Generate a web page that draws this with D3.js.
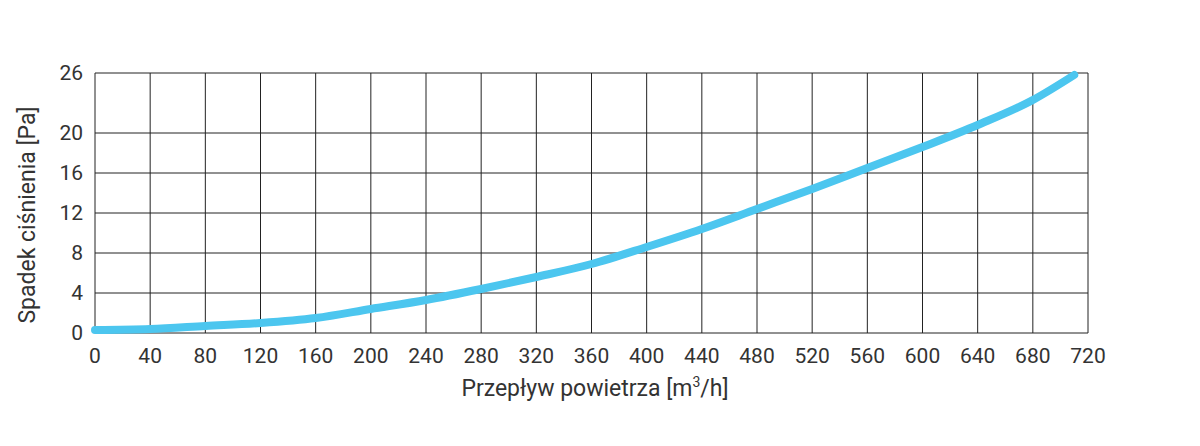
<!DOCTYPE html><html><head><meta charset="utf-8"><script src="https://cdn.jsdelivr.net/npm/d3@7"></script>
<style>body{margin:0;background:#fff}svg{display:block}text{font-family:"Roboto","DejaVu Sans",sans-serif;fill:#333}</style></head><body><svg id="c" width="1200" height="446"></svg><script>
const xTicks=[0,40,80,120,160,200,240,280,320,360,400,440,480,520,560,600,640,680,720];
const yTicks=[0,4,8,12,16,20,26];
const flow=[0,40,80,120,160,200,240,280,320,360,400,440,480,520,560,600,640,680,710];
const drop=[0.3,0.4,0.7,1.0,1.5,2.4,3.3,4.4,5.6,6.9,8.6,10.4,12.4,14.4,16.5,18.6,20.8,23.3,25.8];
const svg=d3.select("#c");
const x=d3.scaleLinear().domain([0,720]).range([95,1088]);
const y=d3.scaleLinear().domain([0,26]).range([333,73]);
const g=svg.append("g");
g.selectAll(".v").data(xTicks).join("line").attr("x1",d=>x(d)).attr("x2",d=>x(d)).attr("y1",y(0)).attr("y2",y(26)).attr("stroke","#222").attr("stroke-width",1);
g.selectAll(".h").data(yTicks).join("line").attr("x1",x(0)).attr("x2",x(720)).attr("y1",d=>y(d)).attr("y2",d=>y(d)).attr("stroke","#222").attr("stroke-width",1);
g.selectAll(".xt").data(xTicks).join("text").attr("x",d=>x(d)).attr("y",363).attr("text-anchor","middle").attr("font-size",21).text(d=>d);
g.selectAll(".yt").data(yTicks).join("text").attr("x",83).attr("y",d=>y(d)+7).attr("text-anchor","end").attr("font-size",21).text(d=>d);
svg.append("path").datum(flow.map((f,i)=>[f,drop[i]])).attr("fill","none").attr("stroke","#4cc6ef").attr("stroke-width",8).attr("stroke-linecap","round")
 .attr("d",d3.line().x(d=>x(d[0])).y(d=>y(d[1])).curve(d3.curveMonotoneX));
const t=svg.append("text").attr("x",595).attr("y",396).attr("text-anchor","middle").attr("font-size",23);
t.append("tspan").text("Przepływ powietrza [m");t.append("tspan").attr("font-size",14).attr("dy",-9).text("3");t.append("tspan").attr("dy",9).text("/h]");
svg.append("text").attr("transform","translate(35,215) rotate(-90)").attr("text-anchor","middle").attr("font-size",23).text("Spadek ciśnienia [Pa]");
</script></body></html>
